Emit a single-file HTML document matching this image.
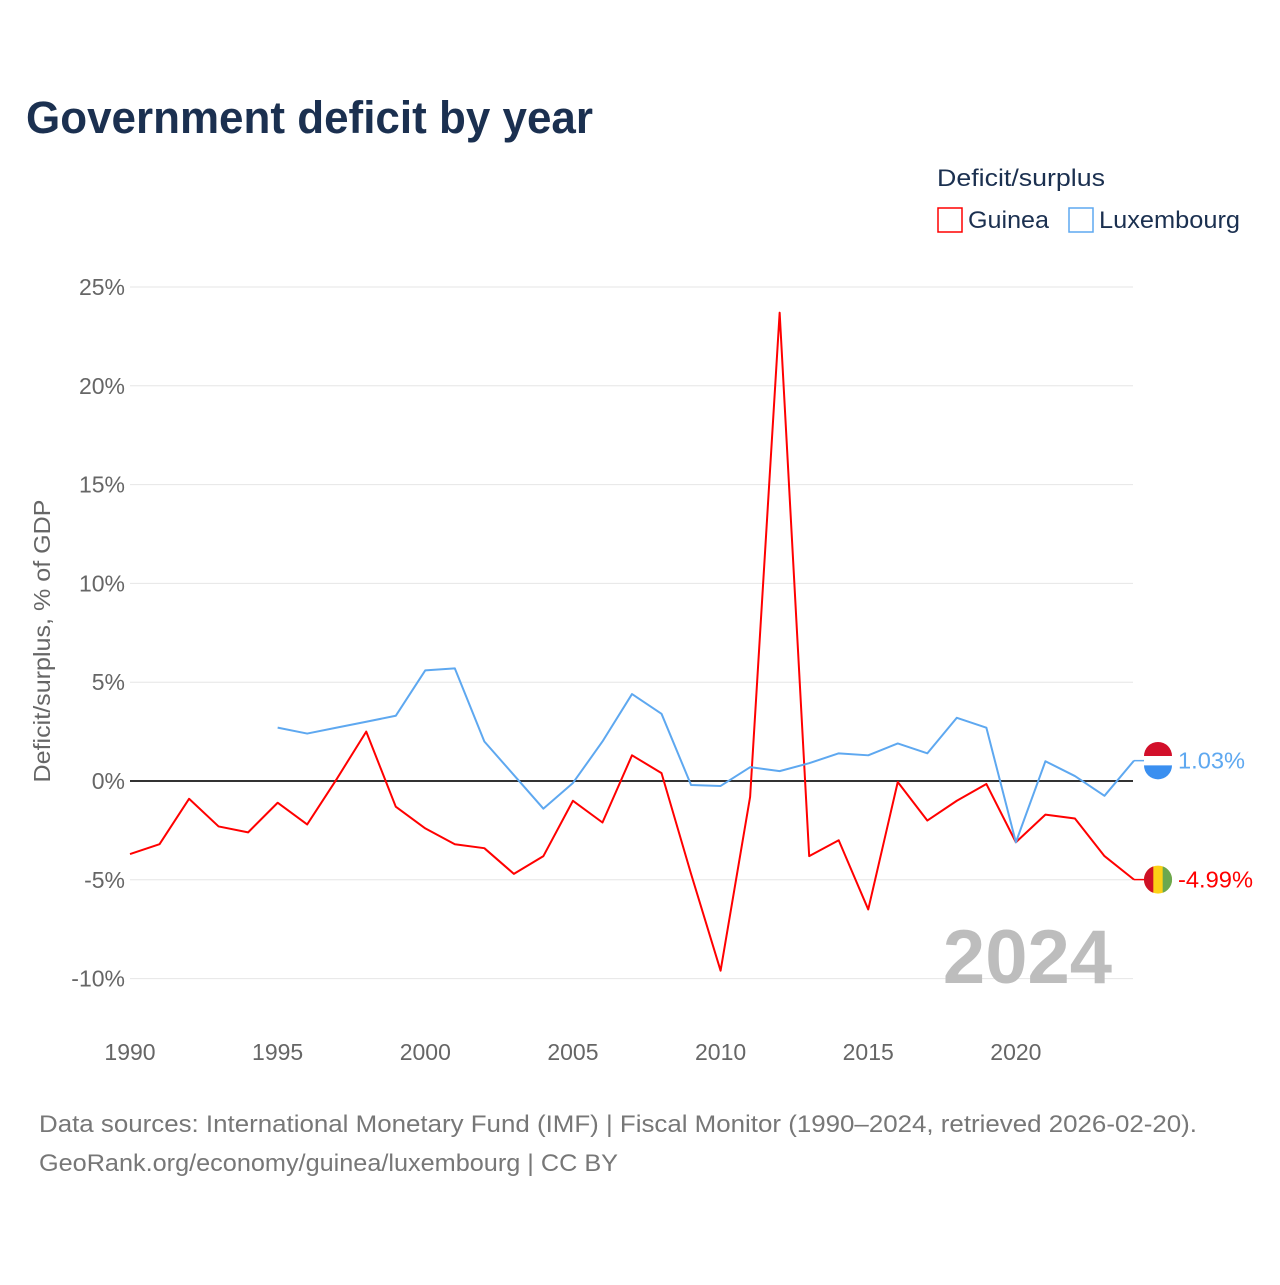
<!DOCTYPE html>
<html><head><meta charset="utf-8"><style>
body{margin:0;background:#fff;width:1280px;height:1280px;overflow:hidden;font-family:"Liberation Sans",sans-serif}
</style></head><body>
<svg id="chart" width="1280" height="1280" xmlns="http://www.w3.org/2000/svg" font-family="Liberation Sans, sans-serif">
<text x="26" y="133" font-size="45" font-weight="bold" fill="#1b3050" textLength="567" lengthAdjust="spacingAndGlyphs">Government deficit by year</text>
<text x="937" y="186" font-size="24" fill="#1b3050" textLength="168" lengthAdjust="spacingAndGlyphs">Deficit/surplus</text>
<g><rect x="938" y="208" width="24" height="24" fill="none" stroke="#ff0000" stroke-width="1.5"/><text x="968" y="228" font-size="24" fill="#1b3050" textLength="81" lengthAdjust="spacingAndGlyphs">Guinea</text></g>
<g><rect x="1069" y="208" width="24" height="24" fill="none" stroke="#5ea8f0" stroke-width="1.5"/><text x="1099" y="228" font-size="24" fill="#1b3050" textLength="141" lengthAdjust="spacingAndGlyphs">Luxembourg</text></g>
<text transform="translate(50,641) rotate(-90)" text-anchor="middle" font-size="23" fill="#666" textLength="283" lengthAdjust="spacingAndGlyphs">Deficit/surplus, % of GDP</text>
<g id="grid"></g><g id="marks"></g>
<text x="1112" y="983" text-anchor="end" font-size="76" font-weight="bold" fill="#bdbdbd">2024</text>
<text x="39" y="1132" font-size="24" fill="#777" textLength="1158" lengthAdjust="spacingAndGlyphs">Data sources: International Monetary Fund (IMF) | Fiscal Monitor (1990–2024, retrieved 2026-02-20).</text>
<text x="39" y="1171" font-size="24" fill="#777" textLength="579" lengthAdjust="spacingAndGlyphs">GeoRank.org/economy/guinea/luxembourg | CC BY</text>
</svg>
<script>
const years=[1990,1991,1992,1993,1994,1995,1996,1997,1998,1999,2000,2001,2002,2003,2004,2005,2006,2007,2008,2009,2010,2011,2012,2013,2014,2015,2016,2017,2018,2019,2020,2021,2022,2023,2024];
const guinea=[-3.7,-3.2,-0.9,-2.3,-2.6,-1.1,-2.2,0.1,2.5,-1.3,-2.4,-3.2,-3.4,-4.7,-3.8,-1.0,-2.1,1.3,0.4,-4.7,-9.6,-0.8,23.7,-3.8,-3.0,-6.5,-0.05,-2.0,-1.0,-0.15,-3.1,-1.7,-1.9,-3.8,-4.99];
const luxYears=[1995,1996,1997,1998,1999,2000,2001,2002,2003,2004,2005,2006,2007,2008,2009,2010,2011,2012,2013,2014,2015,2016,2017,2018,2019,2020,2021,2022,2023,2024];
const luxembourg=[2.7,2.4,2.7,3.0,3.3,5.6,5.7,2.0,0.3,-1.4,-0.1,2.0,4.4,3.4,-0.2,-0.25,0.7,0.5,0.9,1.4,1.3,1.9,1.4,3.2,2.7,-3.1,1.0,0.25,-0.75,1.03];
const yTicks=[25,20,15,10,5,0,-5,-10];
const yTickLabels=["25%","20%","15%","10%","5%","0%","-5%","-10%"];
const xTicks=[1990,1995,2000,2005,2010,2015,2020];
const NS="http://www.w3.org/2000/svg";
const X=y=>130+(y-1990)*(1134-130)/34;
const Y=v=>781-v*19.76;
const grid=document.getElementById('grid'),marks=document.getElementById('marks');
function mk(tag,attrs,parent){const e=document.createElementNS(NS,tag);for(const k in attrs)e.setAttribute(k,attrs[k]);parent.appendChild(e);return e;}
yTicks.forEach((t,i)=>{
 const l=mk('line',{x1:130,x2:1133,y1:Y(t),y2:Y(t),stroke:t===0?'#333':'#e6e6e6','stroke-width':t===0?2:1},grid);
 
 
 const tx=mk('text',{x:125,y:Y(t)+8,'text-anchor':'end','font-size':23,fill:'#666'},grid);
 tx.textContent=yTickLabels[i];
 
 
});
xTicks.forEach(t=>{
 const tx=mk('text',{x:X(t),y:1060,'text-anchor':'middle','font-size':23,fill:'#666'},grid);
 tx.textContent=t;
 
 
});
function line(xs,vs,color,name){
 const p=mk('polyline',{points:xs.map((y,i)=>X(y)+','+Y(vs[i])).join(' '),fill:'none',stroke:color,'stroke-width':2,'stroke-linejoin':'round'},marks);
 
 
}
line(years,guinea,'#ff0000','guinea-line');
line(luxYears,luxembourg,'#5ea8f0','luxembourg-line');
function endLabel(xs,vs,color,name,flag,len){
 const lx=X(xs[xs.length-1]),ly=Y(vs[vs.length-1]);
 mk('line',{x1:lx,x2:lx+10,y1:ly,y2:ly,stroke:color,'stroke-width':1.5},marks);
 const g=mk('g',{},marks);
 
 
 const cx=lx+24;
 if(flag==='lu'){
  mk('circle',{cx:cx,cy:ly,r:14,fill:'#fff'},g);
  mk('path',{d:`M${cx-14},${ly-4.7} A14,14 0 0 1 ${cx+14},${ly-4.7} Z`,fill:'#d20f2a'},g);
  mk('path',{d:`M${cx-14},${ly+4.7} A14,14 0 0 0 ${cx+14},${ly+4.7} Z`,fill:'#3a8ff0'},g);
 } else {
  mk('circle',{cx:cx,cy:ly,r:14,fill:'#fcd116'},g);
  mk('path',{d:`M${cx-4.7},${ly-13.2} A14,14 0 0 0 ${cx-4.7},${ly+13.2} Z`,fill:'#ce1126'},g);
  mk('path',{d:`M${cx+4.7},${ly-13.2} A14,14 0 0 1 ${cx+4.7},${ly+13.2} Z`,fill:'#6aa84f'},g);
 }
 const v=vs[vs.length-1];
 const t=mk('text',{x:cx+20,y:ly+8,'font-size':23,fill:color,textLength:len,lengthAdjust:'spacingAndGlyphs'},marks);
 t.textContent=v.toFixed(2)+'%';
 
 
}
endLabel(luxYears,luxembourg,'#5ea8f0','luxembourg','lu',67);
endLabel(years,guinea,'#ff0000','guinea','gn',75);
</script>
</body></html>
